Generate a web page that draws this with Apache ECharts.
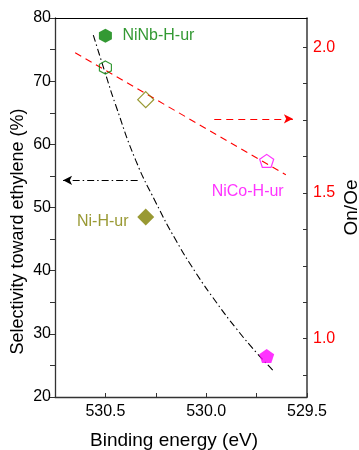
<!DOCTYPE html>
<html>
<head>
<meta charset="utf-8">
<script src="https://cdn.jsdelivr.net/npm/echarts@6/dist/echarts.min.js"></script>
<style>
  html, body { margin: 0; padding: 0; background: #fff; }
  #chart { width: 359px; height: 450px; }
</style>
</head>
<body>
<div id="chart"></div>
<script>
// samples (filled = selectivity, hollow = On/Oe)
const sampleNames = ['NiNb-H-ur', 'Ni-H-ur', 'NiCo-H-ur']
const sampleColors = ['#008000', '#808000', '#ff00ff']
const bindingEnergy = [530.50, 530.30, 529.70]
const selectivity = [77.2, 48.5, 26.5]
const ratioOnOe = [1.93, 1.82, 1.61]

// dash-dot trend curve (left axis)
const curveBinding = [530.56, 530.50, 530.45, 530.35, 530.25, 530.15, 530.05, 529.95, 529.85, 529.75, 529.665]
const curveSelectivity = [77.3, 71.2, 66.3, 57.5, 50.8, 44.8, 39.6, 35.0, 30.8, 27.0, 24.1]

// red dashed linear fit (right axis)
const fitBinding = [530.65, 529.605]
const fitRatio = [1.981, 1.562]

// arrows pointing to their axis
const selArrowBinding = [530.34, 530.71]
const selArrowValue = 54.3
const ratioArrowBinding = [529.96, 529.57]
const ratioArrowValue = 1.754

// tick values
const xTicks = [529.5, 529.75, 530.0, 530.25, 530.5]
const xLabels = [529.5, 530.0, 530.5]
const ratioTicks = [0.875, 1.0, 1.125, 1.25, 1.375, 1.5, 1.625, 1.75, 1.875, 2.0]
const ratioLabels = [1.0, 1.5, 2.0]

const hexagon = 'path://M0,-1 L0.866,-0.5 L0.866,0.5 L0,1 L-0.866,0.5 L-0.866,-0.5 Z'
const pentagon = 'path://M0,-1 L0.951,-0.309 L0.588,0.809 L-0.588,0.809 L-0.951,-0.309 Z'
const symbols = [hexagon, 'diamond', pentagon]
const filledSizes = [[13, 14], [17, 17], [15, 14]]
const hollowSizes = [[12, 13], [16, 16], [14, 13]]
const labelOffsets = [[53, 0], [-43, 5], [-19, 31]]

const font = 'Liberation Sans, Arial, sans-serif'
const chart = echarts.init(document.getElementById('chart'))

const filledSeries = sampleNames.map((name, i) => {
  return {
    name: name,
    type: 'scatter',
    yAxisIndex: 0,
    symbol: symbols[i],
    symbolSize: filledSizes[i],
    itemStyle: { color: sampleColors[i] },
    label: {
      show: i < 2,
      position: 'inside',
      offset: labelOffsets[i],
      formatter: name,
      color: sampleColors[i],
      fontSize: 16,
      fontFamily: font
    },
    data: [[bindingEnergy[i], selectivity[i]]],
    z: 5
  }
})

const hollowSeries = sampleNames.map((name, i) => {
  return {
    name: name + ' ratio',
    type: 'scatter',
    yAxisIndex: 1,
    symbol: symbols[i],
    symbolSize: hollowSizes[i],
    itemStyle: { color: 'rgba(255,255,255,0)', borderColor: sampleColors[i], borderWidth: 1.2 },
    label: {
      show: i === 2,
      position: 'inside',
      offset: labelOffsets[i],
      formatter: name,
      color: sampleColors[i],
      fontSize: 16,
      fontFamily: font
    },
    data: [[bindingEnergy[i], ratioOnOe[i]]],
    z: 5
  }
})

const option = {
  animation: false,
  backgroundColor: '#fff',
  grid: { left: 55, right: 52, top: 18, bottom: 53, outerBoundsMode: 'none' },
  xAxis: [
    {
      type: 'value',
      inverse: true,
      min: 529.5,
      max: 530.75,
      interval: 0.25,
      name: 'Binding energy (eV)',
      nameLocation: 'middle',
      nameGap: 34,
      nameMoveOverlap: false,
      nameTextStyle: { fontSize: 19, color: '#000', fontFamily: font, padding: [0, 14, 0, 0] },
      axisLine: { lineStyle: { color: '#333', width: 1.3 } },
      axisTick: { inside: true, length: 4, customValues: xTicks, lineStyle: { color: '#333' } },
      axisLabel: {
        customValues: xLabels,
        formatter: v => v.toFixed(1),
        fontSize: 16, color: '#000', fontFamily: font, margin: 7
      },
      splitLine: { show: false }
    },
    {
      type: 'value',
      position: 'top',
      inverse: true,
      min: 529.5,
      max: 530.75,
      axisLine: { show: true, onZero: false, lineStyle: { color: '#000', width: 1.2 } },
      axisTick: { show: false },
      axisLabel: { show: false },
      splitLine: { show: false }
    }
  ],
  yAxis: [
    {
      type: 'value',
      min: 20,
      max: 80,
      interval: 5,
      name: 'Selectivity toward ethylene (%)',
      nameLocation: 'middle',
      nameGap: 28,
      nameMoveOverlap: false,
      nameTextStyle: { fontSize: 18, color: '#000', fontFamily: font, padding: [0, 48, 0, 0] },
      axisLine: { show: true, lineStyle: { color: '#333', width: 1.3 } },
      axisTick: { show: true, inside: false, length: 5, lineStyle: { color: '#333' } },
      axisLabel: {
        formatter: v => (v % 10 === 0 ? String(v) : ''),
        fontSize: 16, color: '#000', fontFamily: font, margin: 4
      },
      splitLine: { show: false }
    },
    {
      type: 'value',
      position: 'right',
      min: 0.8,
      max: 2.1,
      name: 'On/Oe',
      nameLocation: 'middle',
      nameGap: 35,
      nameMoveOverlap: false,
      nameTextStyle: { fontSize: 19, color: '#000', fontFamily: font },
      axisLine: { show: true, lineStyle: { color: '#444', width: 1.6 } },
      axisTick: { show: true, inside: true, length: 4, customValues: ratioTicks, lineStyle: { color: '#333' } },
      axisLabel: {
        customValues: ratioLabels,
        formatter: v => v.toFixed(1),
        fontSize: 16, color: '#ff0000', fontFamily: font, margin: 6
      },
      splitLine: { show: false }
    }
  ],
  series: [
    {
      name: 'selectivity trend',
      type: 'line',
      yAxisIndex: 0,
      smooth: 0.5,
      symbol: 'none',
      lineStyle: { color: '#000', width: 1.1, type: [7, 3, 1.5, 3] },
      data: curveBinding.map((b, i) => [b, curveSelectivity[i]]),
      markLine: {
        silent: true,
        symbol: ['none', 'arrow'],
        symbolSize: [7, 9],
        label: { show: false },
        lineStyle: { color: '#000', width: 1.1, type: [7, 3, 1.5, 3] },
        data: [[
          { coord: [selArrowBinding[0], selArrowValue] },
          { coord: [selArrowBinding[1], selArrowValue] }
        ]]
      }
    },
    {
      name: 'ratio fit',
      type: 'line',
      yAxisIndex: 1,
      symbol: 'none',
      lineStyle: { color: '#ff0000', width: 1.1, type: [7, 5] },
      data: fitBinding.map((b, i) => [b, fitRatio[i]]),
      markLine: {
        silent: true,
        symbol: ['none', 'arrow'],
        symbolSize: [7, 9],
        label: { show: false },
        lineStyle: { color: '#ff0000', width: 1.1, type: [7, 5] },
        data: [[
          { coord: [ratioArrowBinding[0], ratioArrowValue] },
          { coord: [ratioArrowBinding[1], ratioArrowValue] }
        ]]
      }
    }
  ].concat(filledSeries, hollowSeries)
}

chart.setOption(option)
</script>
</body>
</html>
